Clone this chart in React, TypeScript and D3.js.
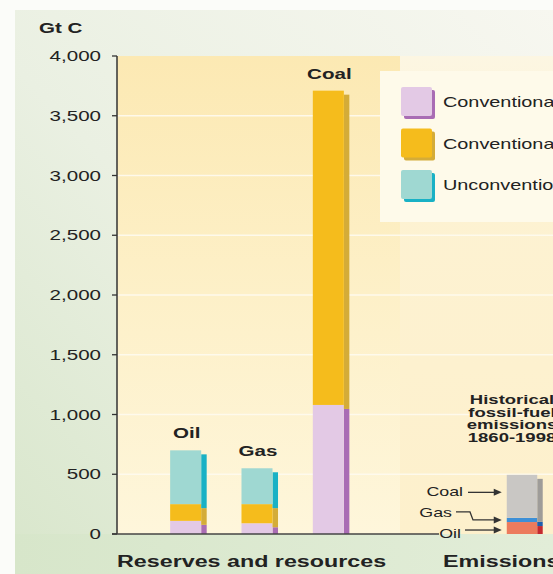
import * as d3 from "d3";

const categories = ["Oil", "Gas", "Coal"];
const conventionalReserves = [110, 90, 1080];
const conventionalResources = [140, 160, 2630];
const unconventional = [450, 300, 0];

const emissionFuels = ["Oil", "Gas", "Coal"];
const emissionValues = [100, 35, 360];

const yTicks = [0, 500, 1000, 1500, 2000, 2500, 3000, 3500, 4000];
const legendLabels = [
  "Conventional reserves",
  "Conventional resources",
  "Unconventional reserves and resources",
];
const historyLines = ["Historical", "fossil-fuel", "emissions", "1860-1998"];

const W = 553, H = 574;
const FONT = "'Liberation Sans', Arial, Helvetica, sans-serif";
const STRETCH = 1.37;

const fills = ["#e3c9e5", "#f5bc1c", "#9fd8d2"];
const sides = ["#a96cb4", "#d4ac38", "#19b1c5"];
const emFills = ["#ec7b5d", "#3d8fd6", "#c9c7c4"];
const emSides = ["#c42a30", "#1f5fae", "#9e9c99"];

function WText(props: {
  x: number; y: number; size: number; bold?: boolean;
  anchor?: "start" | "middle" | "end"; children: any;
}) {
  return (
    <text
      transform={`translate(${props.x},${props.y}) scale(${STRETCH},1)`}
      textAnchor={props.anchor || "start"}
      fontSize={props.size}
      fontWeight={props.bold ? 700 : 400}
      fontFamily={FONT}
      fill="#222"
    >
      {props.children}
    </text>
  );
}

export default function App() {
  const y = d3.scaleLinear().domain([0, 4000]).range([534, 56]);
  const x = d3.scaleBand<string>().domain(categories).range([150, 364])
    .paddingInner(0.565).paddingOuter(0.2825);
  const xe = d3.scaleBand<string>().domain(["1860-1998"]).range([487, 557])
    .paddingInner(0.565).paddingOuter(0.2825);

  const rows = categories.map((c, i) => ({
    cat: c,
    a: conventionalReserves[i],
    b: conventionalResources[i],
    c: unconventional[i],
  }));
  const series = d3.stack<any>().keys(["a", "b", "c"])(rows);

  const emRow: any = {};
  emissionFuels.forEach((f, i) => (emRow[f] = emissionValues[i]));
  const emSeries = d3.stack<any>().keys(emissionFuels)([emRow]);

  const base = y(0);
  const off = 4;
  const side = 5.5;
  const bw = x.bandwidth();
  const ebw = xe.bandwidth();
  const ex = xe("1860-1998")!;

  const arrow = (pts: [number, number][], key: string) => {
    const [tx, ty] = pts[pts.length - 1];
    return (
      <g key={key}>
        <path d={d3.line()(pts.slice(0, -1).concat([[tx - 5, ty]]))!} fill="none" stroke="#333" strokeWidth={1.3} />
        <path d={`M${tx},${ty} L${tx - 8},${ty - 3.5} L${tx - 8},${ty + 3.5} Z`} fill="#333" />
      </g>
    );
  };

  const emMid = (k: number) => y((emSeries[k][0][0] + emSeries[k][0][1]) / 2);

  return (
    <svg width={W} height={H} style={{ position: "absolute", left: 0, top: 0 }}>
      <defs>
        <linearGradient id="outer" x1="1" y1="0" x2="0" y2="1">
          <stop offset="0" stopColor="#f7f7f0" />
          <stop offset="0.55" stopColor="#eaf0e2" />
          <stop offset="1" stopColor="#d8e6cb" />
        </linearGradient>
        <linearGradient id="plotL" x1="0" y1="0" x2="0" y2="1">
          <stop offset="0" stopColor="#fce9b3" />
          <stop offset="0.5" stopColor="#fdf0c8" />
          <stop offset="1" stopColor="#fef6db" />
        </linearGradient>
        <linearGradient id="plotR" x1="0" y1="0" x2="0" y2="1">
          <stop offset="0" stopColor="#fcf6e2" />
          <stop offset="0.3" stopColor="#fdf2d2" />
          <stop offset="1" stopColor="#fdf0cc" />
        </linearGradient>
        <linearGradient id="bottom" x1="0" y1="0" x2="1" y2="0">
          <stop offset="0" stopColor="#d7e6ca" />
          <stop offset="1" stopColor="#e2edd8" />
        </linearGradient>
      </defs>

      <rect x={0} y={0} width={W} height={H} fill="#fbfcf9" />
      <rect x={15} y={10} width={W - 15} height={H - 10} fill="url(#outer)" />
      <rect x={15} y={base} width={W - 15} height={H - base} fill="url(#bottom)" />

      {/* plot backgrounds */}
      <rect x={117} y={y(4000)} width={400 - 117} height={base - y(4000)} fill="url(#plotL)" />
      <rect x={400} y={y(4000)} width={W - 400} height={base - y(4000)} fill="url(#plotR)" />

      {/* grid */}
      {yTicks.filter((t) => t > 0 && t < 4000).map((t) => (
        <line key={t} x1={118} x2={W} y1={y(t)} y2={y(t)} stroke="#fffbf0" strokeWidth={1.6} opacity={0.9} />
      ))}

      {/* legend box */}
      <rect x={380} y={71} width={W - 380} height={151} fill="#fefaea" />
      {legendLabels.map((l, i) => {
        const ly = 87 + i * 41.5;
        return (
          <g key={l}>
            <rect x={404} y={ly + 3} width={31} height={29} fill={sides[i]} rx={2} />
            <rect x={401} y={ly} width={31} height={29} fill={fills[i]} rx={2} />
            <WText x={443} y={ly + 20} size={14.5}>{l}</WText>
          </g>
        );
      })}

      {/* reserve bars */}
      {series.map((s, k) =>
        s.map((d: any) => {
          const bx = x(d.data.cat)!;
          if (d[1] - d[0] <= 0) return null;
          const top = y(d[1]), bot = y(d[0]);
          return (
            <g key={k + d.data.cat}>
              <rect x={bx + bw} y={top + off} width={side} height={Math.min(bot + off, base) - (top + off)} fill={sides[k]} />
              <rect x={bx} y={top} width={bw} height={bot - top} fill={fills[k]} />
            </g>
          );
        })
      )}

      {/* emissions bar */}
      {emSeries.map((s, k) => {
        const d: any = s[0];
        const top = y(d[1]), bot = y(d[0]);
        return (
          <g key={"e" + k}>
            <rect x={ex + ebw} y={top + off} width={side} height={Math.min(bot + off, base) - (top + off)} fill={emSides[k]} />
            <rect x={ex} y={top} width={ebw} height={bot - top} fill={emFills[k]} />
          </g>
        );
      })}

      {/* bar labels */}
      {categories.map((c, i) => (
        <WText key={c} x={x(c)! + bw / 2 + 1} y={y(d3.sum([conventionalReserves[i], conventionalResources[i], unconventional[i]])) - 12} size={15} bold anchor="middle">
          {c}
        </WText>
      ))}

      {historyLines.map((l, i) => (
        <WText key={l} x={512} y={404 + i * 12.5} size={13.5} bold anchor="middle">{l}</WText>
      ))}

      {/* emission pointers */}
      <WText x={463} y={emMid(2) + 0} size={13} anchor="end">Coal</WText>
      {arrow([[468, emMid(2) - 4], [ex - 5, emMid(2) - 4]], "ac")}
      <WText x={452} y={emMid(1) - 3} size={13} anchor="end">Gas</WText>
      {arrow([[456, emMid(1) - 8], [470, emMid(1) - 8], [473, emMid(1)], [ex - 5, emMid(1)]], "ag")}
      <WText x={461} y={base + 4} size={13} anchor="end">Oil</WText>
      {arrow([[465, emMid(0) + 2], [ex - 5, emMid(0) + 2]], "ao")}

      {/* axes */}
      <line x1={117} x2={117} y1={y(4000)} y2={base} stroke="#333" strokeWidth={1.5} />
      <line x1={112} x2={439} y1={base} y2={base} stroke="#444" strokeWidth={1.5} />
      {yTicks.map((t) => (
        <g key={t}>
          <line x1={112} x2={117} y1={y(t)} y2={y(t)} stroke="#333" strokeWidth={1.3} />
          <WText x={101} y={y(t) + 5} size={15} anchor="end">{d3.format(",")(t)}</WText>
        </g>
      ))}
      <WText x={39} y={33} size={15} bold>Gt C</WText>

      <WText x={117} y={567} size={17} bold>Reserves and resources</WText>
      <WText x={443} y={567} size={17} bold>Emissions</WText>
    </svg>
  );
}
